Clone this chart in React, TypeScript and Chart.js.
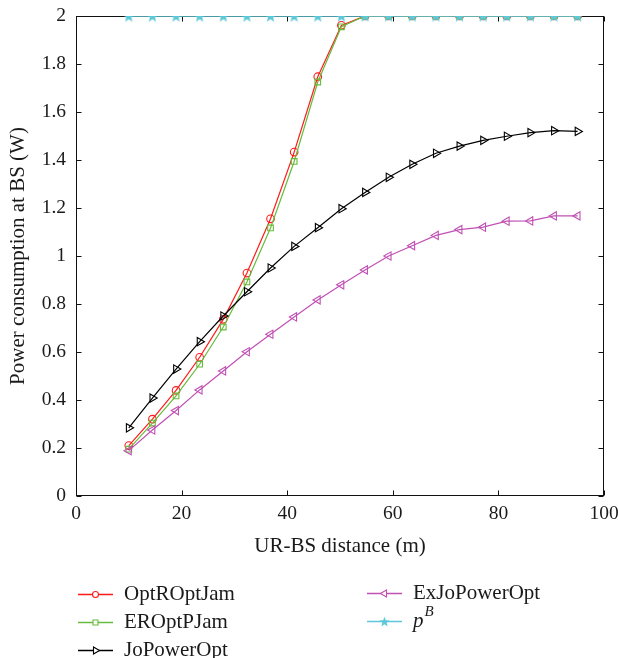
import React, { useEffect, useRef } from 'react';
import { Chart, registerables } from 'chart.js';
import { drawPoint } from 'chart.js/helpers';

Chart.register(...registerables);

// ---- data ----
const distances = [10, 14.47, 18.95, 23.42, 27.89, 32.37, 36.84, 41.32, 45.79, 50.26, 54.74, 59.21, 63.68, 68.16, 72.63, 77.11, 81.58, 86.05, 90.53, 95];
const optROptJam = [0.21, 0.32, 0.44, 0.578, 0.736, 0.929, 1.155, 1.433, 1.747, 1.961, 2, 2, 2, 2, 2, 2, 2, 2, 2, 2];
const erOptPJam = [0.195, 0.304, 0.417, 0.549, 0.704, 0.892, 1.117, 1.394, 1.725, 1.955, 2, 2, 2, 2, 2, 2, 2, 2, 2, 2];
const joPowerOpt = [0.284, 0.408, 0.529, 0.643, 0.75, 0.851, 0.95, 1.04, 1.118, 1.197, 1.265, 1.328, 1.382, 1.428, 1.458, 1.482, 1.499, 1.514, 1.522, 1.519];
const exJoPowerOpt = [0.189, 0.275, 0.356, 0.442, 0.521, 0.601, 0.674, 0.746, 0.817, 0.88, 0.942, 1.0, 1.043, 1.086, 1.11, 1.12, 1.145, 1.146, 1.167, 1.167];
const pB = [2, 2, 2, 2, 2, 2, 2, 2, 2, 2, 2, 2, 2, 2, 2, 2, 2, 2, 2, 2];

const xTickValues = [0, 20, 40, 60, 80, 100];
const yTickValues = [0, 0.2, 0.4, 0.6, 0.8, 1, 1.2, 1.4, 1.6, 1.8, 2];

const xTitle = 'UR-BS distance (m)';
const yTitle = 'Power consumption at BS (W)';

const RED = '#ff1a1a';
const GREEN = '#66bb3c';
const BLACK = '#000000';
const MAGENTA = '#c050b4';
const CYAN = '#5cc8d8';

const FONT = '"Liberation Serif", "DejaVu Serif", serif';
const TEXT = '#1a1a1a';

function makeStar(color: string, size: number): HTMLCanvasElement {
  const c = document.createElement('canvas');
  c.width = size;
  c.height = size;
  const g = c.getContext('2d')!;
  const cx = size / 2, cy = size / 2 + 0.6;
  const R = size / 2 - 0.2;
  const r = R * 0.42;
  g.beginPath();
  for (let i = 0; i < 10; i++) {
    const ang = -Math.PI / 2 + (i * Math.PI) / 5;
    const rad = i % 2 === 0 ? R : r;
    g.lineTo(cx + rad * Math.cos(ang), cy + rad * Math.sin(ang));
  }
  g.closePath();
  g.fillStyle = color;
  g.fill();
  return c;
}

const toPts = (ys: number[]) => distances.map((x, i) => ({ x, y: ys[i] }));

const framePlugin = {
  id: 'frame',
  beforeDatasetsDraw(chart: any) {
    const { ctx, chartArea, scales } = chart;
    const L = Math.round(chartArea.left) + 0.5;
    const R = Math.round(chartArea.right) - 0.5;
    const T = Math.round(chartArea.top) + 0.5;
    const B = Math.round(chartArea.bottom) - 0.5;
    ctx.save();
    ctx.strokeStyle = '#111';
    ctx.lineWidth = 1;
    ctx.strokeRect(L, T, R - L, B - T);
    const tl = 5;
    ctx.beginPath();
    xTickValues.forEach((v) => {
      const px = Math.round(scales.x.getPixelForValue(v)) + 0.5;
      ctx.moveTo(px, B);
      ctx.lineTo(px, B - tl);
      ctx.moveTo(px, T);
      ctx.lineTo(px, T + tl);
    });
    yTickValues.forEach((v) => {
      const py = Math.round(scales.y.getPixelForValue(v)) + 0.5;
      ctx.moveTo(L, py);
      ctx.lineTo(L + tl, py);
      ctx.moveTo(R, py);
      ctx.lineTo(R - tl, py);
    });
    ctx.stroke();
    ctx.restore();
  },
};

export default function App() {
  const ref = useRef<HTMLCanvasElement | null>(null);

  useEffect(() => {
    if (!ref.current) return;
    const star = makeStar(CYAN, 13);
    const starSmall = makeStar(CYAN, 11);

    const legendItems = [
      { label: 'OptROptJam', color: RED, style: 'circle', rot: 0, r: 3, x: 78, y: 594 },
      { label: 'EROptPJam', color: GREEN, style: 'rect', rot: 0, r: 3.5, x: 78, y: 622 },
      { label: 'JoPowerOpt', color: BLACK, style: 'triangle', rot: 90, r: 4, x: 78, y: 650 },
      { label: 'ExJoPowerOpt', color: MAGENTA, style: 'triangle', rot: 270, r: 4, x: 367, y: 593 },
      { label: 'pB', color: CYAN, style: starSmall as any, rot: 0, r: 4, x: 367, y: 621 },
    ];

    const legendPlugin = {
      id: 'customLegend',
      afterDraw(chart: any) {
        const ctx = chart.ctx;
        ctx.save();
        legendItems.forEach((it) => {
          ctx.strokeStyle = it.color;
          ctx.lineWidth = 1.3;
          ctx.beginPath();
          ctx.moveTo(it.x, it.y + 0.5);
          ctx.lineTo(it.x + 35, it.y + 0.5);
          ctx.stroke();
          ctx.fillStyle = 'rgba(255,255,255,1)';
          ctx.lineWidth = 1.1;
          drawPoint(ctx, { pointStyle: it.style, rotation: it.rot, radius: it.r, borderWidth: 1.1 } as any, it.x + 17.5, it.y + 0.5);
          ctx.fillStyle = TEXT;
          ctx.textBaseline = 'middle';
          ctx.textAlign = 'left';
          const tx = it.x + 46;
          if (it.label === 'pB') {
            ctx.font = `italic 21px ${FONT}`;
            ctx.fillText('p', tx, it.y);
            const w = ctx.measureText('p').width;
            ctx.font = `italic 15px ${FONT}`;
            ctx.fillText('B', tx + w + 1, it.y - 9);
          } else {
            ctx.font = `21px ${FONT}`;
            ctx.fillText(it.label, tx, it.y);
          }
        });
        ctx.restore();
      },
    };

    const common = {
      borderWidth: 1.2,
      pointBorderWidth: 1.1,
      pointBackgroundColor: 'rgba(255,255,255,0)',
      tension: 0,
      fill: false,
    };

    const chart = new Chart(ref.current, {
      type: 'line',
      data: {
        datasets: [
          { ...common, label: 'OptROptJam', data: toPts(optROptJam), borderColor: RED, pointBorderColor: RED, pointStyle: 'circle', pointRadius: 3.8, order: 4 },
          { ...common, label: 'EROptPJam', data: toPts(erOptPJam), borderColor: GREEN, pointBorderColor: GREEN, pointStyle: 'rect', pointRadius: 4, order: 3 },
          { ...common, label: 'JoPowerOpt', data: toPts(joPowerOpt), borderColor: BLACK, pointBorderColor: BLACK, pointStyle: 'triangle', pointRotation: 90, pointRadius: 4.8, order: 1 },
          { ...common, label: 'ExJoPowerOpt', data: toPts(exJoPowerOpt), borderColor: MAGENTA, pointBorderColor: MAGENTA, pointStyle: 'triangle', pointRotation: 270, pointRadius: 4.8, order: 2 },
          { ...common, label: 'pB', data: toPts(pB), borderColor: CYAN, pointBorderColor: CYAN, pointStyle: star as any, pointRadius: 6, borderWidth: 1.6, order: 0 },
        ] as any,
      },
      options: {
        responsive: false,
        animation: false,
        layout: { padding: { top: 16, right: 14, bottom: 98, left: 0 } },
        plugins: {
          legend: { display: false },
          tooltip: { enabled: false },
        },
        scales: {
          x: {
            type: 'linear',
            min: 0,
            max: 100,
            afterBuildTicks: (s: any) => {
              s.ticks = xTickValues.map((v) => ({ value: v }));
            },
            afterFit: (s: any) => {
              s.height = 64;
              s.paddingLeft = 0;
              s.paddingRight = 0;
            },
            grid: { display: false, drawTicks: false },
            border: { display: false },
            ticks: {
              padding: 6,
              color: TEXT,
              maxRotation: 0,
              autoSkip: false,
              font: { family: FONT, size: 19.5 },
              callback: (v: any) => String(v),
            },
            title: {
              display: true,
              text: xTitle,
              color: TEXT,
              font: { family: FONT, size: 21 },
              padding: { top: 0, bottom: 1 },
            },
          },
          y: {
            type: 'linear',
            min: 0,
            max: 2,
            afterBuildTicks: (s: any) => {
              s.ticks = yTickValues.map((v) => ({ value: v }));
            },
            afterFit: (s: any) => {
              s.width = 76;
              s.paddingTop = 0;
              s.paddingBottom = 0;
            },
            grid: { display: false, drawTicks: false },
            border: { display: false },
            ticks: {
              padding: 10,
              color: TEXT,
              autoSkip: false,
              font: { family: FONT, size: 19.5 },
              callback: (v: any) => String(Math.round(Number(v) * 10) / 10),
            },
            title: {
              display: true,
              text: yTitle,
              color: TEXT,
              font: { family: FONT, size: 21 },
              padding: { top: 6, bottom: 0 },
            },
          },
        },
      } as any,
      plugins: [framePlugin, legendPlugin],
    });
    return () => chart.destroy();
  }, []);

  return (
    <div style={{ position: 'absolute', left: 0, top: 0, width: 618, height: 658, background: '#fff' }}>
      <canvas ref={ref} width={618} height={658} style={{ display: 'block' }} />
    </div>
  );
}
